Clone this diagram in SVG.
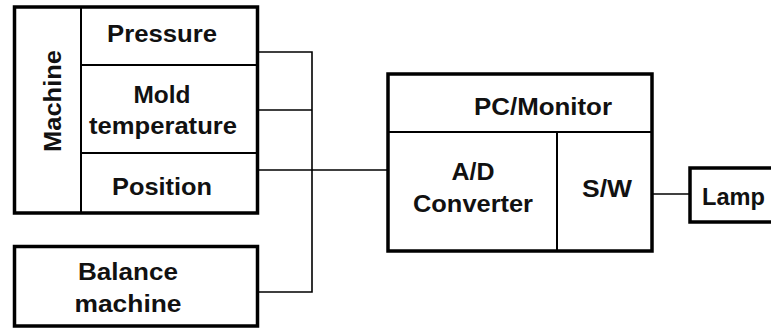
<svg xmlns="http://www.w3.org/2000/svg" width="771" height="329" viewBox="0 0 771 329">
<style>
.box{fill:#fff;stroke:#000;stroke-width:3.5}
.div{stroke:#000;stroke-width:2;fill:none}
.con{stroke:#000;stroke-width:1.6;fill:none}
text{font-family:"Liberation Sans",Arial,sans-serif;font-weight:bold;font-size:23.5px;fill:#111}
</style>
<rect width="771" height="329" fill="#fff"/>
<g id="connectors">
<polyline class="con" points="257,52 312,52 312,292 257,292"/>
<line class="con" x1="257" y1="110" x2="312" y2="110"/>
<line class="con" x1="257" y1="170" x2="388" y2="170"/>
<line class="con" x1="652" y1="194" x2="690" y2="194"/>
</g>
<g id="machine">
<rect class="box" x="14.5" y="7" width="243" height="206"/>
<line class="div" x1="81" y1="7" x2="81" y2="213"/>
<line class="div" x1="81" y1="65" x2="257" y2="65"/>
<line class="div" x1="81" y1="153" x2="257" y2="153"/>
<text transform="translate(61,101) rotate(-90)" text-anchor="middle" textLength="102" lengthAdjust="spacingAndGlyphs">Machine</text>
<text x="162" y="42" text-anchor="middle" textLength="110" lengthAdjust="spacingAndGlyphs">Pressure</text>
<text x="162" y="103" text-anchor="middle" textLength="57" lengthAdjust="spacingAndGlyphs">Mold</text>
<text x="163" y="134" text-anchor="middle" textLength="148" lengthAdjust="spacingAndGlyphs">temperature</text>
<text x="162" y="195" text-anchor="middle" textLength="100" lengthAdjust="spacingAndGlyphs">Position</text>
</g>
<g id="balance">
<rect class="box" x="14.5" y="246.5" width="243" height="79.5"/>
<text x="128" y="280" text-anchor="middle" textLength="100" lengthAdjust="spacingAndGlyphs">Balance</text>
<text x="128" y="312" text-anchor="middle" textLength="107" lengthAdjust="spacingAndGlyphs">machine</text>
</g>
<g id="pc">
<rect class="box" x="388" y="74" width="264" height="177"/>
<line class="div" x1="388" y1="132" x2="652" y2="132"/>
<line class="div" x1="557" y1="132" x2="557" y2="251"/>
<text x="543" y="115" text-anchor="middle" textLength="138" lengthAdjust="spacingAndGlyphs">PC/Monitor</text>
<text x="473" y="180" text-anchor="middle" textLength="43" lengthAdjust="spacingAndGlyphs">A/D</text>
<text x="473" y="212" text-anchor="middle" textLength="120" lengthAdjust="spacingAndGlyphs">Converter</text>
<text x="607" y="197" text-anchor="middle" textLength="50" lengthAdjust="spacingAndGlyphs">S/W</text>
</g>
<g id="lamp">
<rect class="box" x="690" y="168" width="100" height="54" stroke-width="4"/>
<text x="702" y="205" textLength="63" lengthAdjust="spacingAndGlyphs">Lamp</text>
</g>
</svg>
